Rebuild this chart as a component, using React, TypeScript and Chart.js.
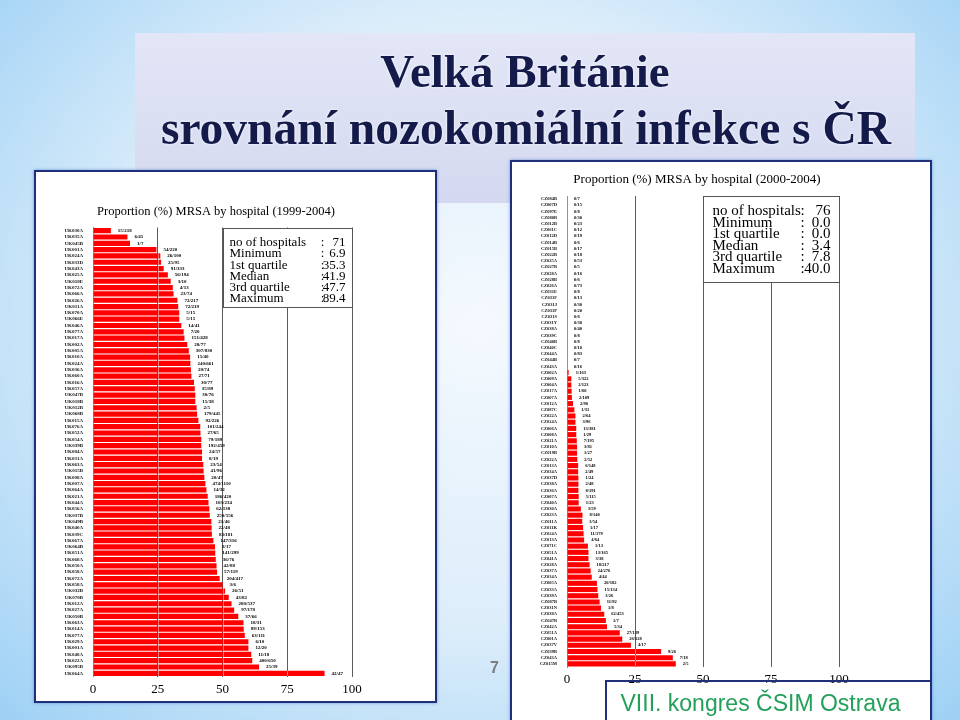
import React, { useEffect, useRef } from 'react';
import { Chart, registerables } from 'chart.js';

Chart.register(...registerables);

// ---------- data ----------
const xTickValues = [0, 25, 50, 75, 100];
const statLabels = ['no of hospitals', 'Minimum', '1st quartile', 'Median', '3rd quartile', 'Maximum'];

const ukHospitals = [
  'UK030A', 'UK035A', 'UK045B', 'UK001A', 'UK024A', 'UK033D', 'UK043A', 'UK025A', 'UK018E', 'UK072A',
  'UK066A', 'UK026A', 'UK011A', 'UK070A', 'UK066E', 'UK046A', 'UK077A', 'UK017A', 'UK002A', 'UK005A',
  'UK010A', 'UK024A', 'UK036A', 'UK060A', 'UK016A', 'UK057A', 'UK047B', 'UK018B', 'UK012B', 'UK068B',
  'UK015A', 'UK076A', 'UK052A', 'UK054A', 'UK039B', 'UK084A', 'UK031A', 'UK063A', 'UK015B', 'UK008A',
  'UK007A', 'UK064A', 'UK021A', 'UK044A', 'UK056A', 'UK037B', 'UK049B', 'UK040A', 'UK039C', 'UK067A',
  'UK064B', 'UK051A', 'UK068A', 'UK050A', 'UK058A', 'UK072A', 'UK058A', 'UK032B', 'UK070B', 'UK012A',
  'UK027A', 'UK050B', 'UK063A', 'UK014A', 'UK077A', 'UK029A', 'UK001A', 'UK048A', 'UK022A', 'UK095B',
  'UK064A',
];
const ukPercent = [
  6.9, 13.3, 14.3, 24.5, 26.0, 26.3, 27.3, 28.9, 30.0, 30.8,
  31.1, 32.6, 32.9, 33.3, 33.3, 34.1, 35.0, 35.3, 36.4, 37.0,
  37.5, 37.6, 37.8, 38.0, 39.0, 39.3, 39.5, 39.5, 40.0, 40.2,
  40.7, 41.4, 41.5, 41.8, 41.8, 42.1, 42.1, 42.6, 42.7, 43.0,
  43.4, 43.8, 44.3, 44.6, 44.9, 45.1, 45.7, 45.8, 45.9, 46.5,
  47.1, 47.2, 47.4, 47.7, 47.9, 48.9, 50.0, 51.0, 52.4, 53.5,
  54.5, 56.1, 58.1, 58.2, 58.6, 60.0, 60.0, 61.1, 61.5, 64.1,
  89.4,
];
const ukCounts = [
  '15/218', '6/45', '1/7', '54/220', '26/100', '25/95', '91/333', '56/194', '3/10', '4/13',
  '23/74', '72/217', '72/219', '5/15', '5/15', '14/41', '7/20', '151/428', '28/77', '307/830',
  '15/40', '240/661', '28/74', '27/71', '30/77', '35/89', '30/76', '15/38', '2/5', '179/445',
  '92/226', '101/244', '27/65', '79/189', '192/459', '24/57', '8/19', '23/54', '41/96', '20/47',
  '474/1110', '14/32', '186/420', '103/234', '62/138', '250/556', '21/46', '22/48', '83/181', '147/316',
  '8/17', '141/299', '36/76', '42/88', '57/119', '204/417', '3/6', '26/51', '43/82', '280/537',
  '97/178', '37/66', '18/31', '89/153', '63/111', '6/10', '12/20', '11/18', '400/650', '25/39',
  '42/47',
];
const ukStatValues = ['71', '6.9', '35.3', '41.9', '47.7', '89.4'];

const czHospitals = [
  'CZ084B', 'CZ007D', 'CZ097E', 'CZ080B', 'CZ012B', 'CZ061C', 'CZ012D', 'CZ014B', 'CZ015B', 'CZ022B',
  'CZ025A', 'CZ027B', 'CZ028A', 'CZ028B', 'CZ026A', 'CZ031E', 'CZ031F', 'CZ031J', 'CZ031P', 'CZ031S',
  'CZ031Y', 'CZ038A', 'CZ039C', 'CZ040B', 'CZ040C', 'CZ044A', 'CZ044B', 'CZ043A', 'CZ002A', 'CZ009A',
  'CZ004A', 'CZ017A', 'CZ007A', 'CZ012A', 'CZ087C', 'CZ022A', 'CZ024A', 'CZ006A', 'CZ008A', 'CZ021A',
  'CZ010A', 'CZ019B', 'CZ022A', 'CZ013A', 'CZ034A', 'CZ037D', 'CZ038A', 'CZ036A', 'CZ007A', 'CZ040A',
  'CZ030A', 'CZ023A', 'CZ011A', 'CZ011K', 'CZ024A', 'CZ013A', 'CZ071C', 'CZ051A', 'CZ041A', 'CZ028A',
  'CZ037A', 'CZ034A', 'CZ005A', 'CZ033A', 'CZ039A', 'CZ087B', 'CZ031N', 'CZ038A', 'CZ047B', 'CZ042A',
  'CZ051A', 'CZ001A', 'CZ037V', 'CZ039B', 'CZ043A', 'CZ015M',
];
const czPercent = [
  0, 0, 0, 0, 0, 0, 0, 0, 0, 0,
  0, 0, 0, 0, 0, 0, 0, 0, 0, 0,
  0, 0, 0, 0, 0, 0, 0, 0, 0.6, 1.6,
  1.6, 1.7, 1.8, 2.2, 2.7, 3.1, 3.1, 3.4, 3.4, 3.6,
  3.7, 3.7, 3.8, 4.1, 4.1, 4.2, 4.2, 4.2, 4.3, 4.3,
  5.1, 5.7, 5.6, 5.9, 6.1, 6.3, 7.7, 7.9, 7.9, 8.3,
  8.7, 9.1, 11.0, 11.2, 11.5, 12.0, 12.5, 13.7, 14.3, 14.7,
  19.4, 20.3, 23.5, 34.6, 38.9, 40.0,
];
const czCounts = [
  '0/7', '0/15', '0/8', '0/30', '0/23', '0/12', '0/19', '0/6', '0/17', '0/18',
  '0/53', '0/5', '0/16', '0/6', '0/73', '0/8', '0/13', '0/30', '0/20', '0/6',
  '0/30', '0/40', '0/8', '0/8', '0/10', '0/83', '0/7', '0/16', '1/163', '5/322',
  '2/123', '1/60', '2/109', '2/90', '1/31', '2/64', '3/96', '13/381', '1/29', '7/195',
  '3/81', '1/27', '2/52', '6/148', '2/49', '1/24', '2/48', '8/191', '5/115', '1/23',
  '3/59', '8/140', '3/54', '1/17', '11/179', '4/64', '1/13', '13/165', '3/38', '18/217',
  '24/276', '4/44', '20/182', '15/134', '3/26', '11/92', '1/8', '62/453', '1/7', '5/34',
  '27/139', '26/128', '4/17', '9/26', '7/18', '2/5',
];
const czStatValues = ['76', '0.0', '0.0', '3.4', '7.8', '40.0'];

// ---------- chart component ----------
type Cfg = {
  left: number; top: number; width: number; height: number;
  labels: string[]; values: number[]; counts: string[]; stats: string[];
  title: string; titleX: number; titleY: number; titleSize: number;
  yAxisW: number; xAxisH: number; padRight: number; padTop: number; padBottom: number;
  catSize: number; countSize: number;
  boxH: number; boxFont: number; boxTextX: number; boxColonX: number; boxValueX: number;
  boxLine0: number; boxStep: number;
};

const SERIF = '"Liberation Serif", "Times New Roman", serif';

function MrsaChart({ cfg }: { cfg: Cfg }) {
  const ref = useRef<HTMLCanvasElement>(null);
  useEffect(() => {
    const decor = {
      id: 'mrsaDecor',
      afterDatasetsDraw(chart: any) {
        const ctx = chart.ctx;
        const xs = chart.scales.x;
        const meta = chart.getDatasetMeta(0);
        ctx.save();
        // light grid traces through bars
        ctx.strokeStyle = 'rgba(255,255,255,0.45)';
        ctx.lineWidth = 1;
        meta.data.forEach((bar: any) => {
          const p = bar.getProps(['x', 'y', 'height'], true);
          [25, 50, 75].forEach((v) => {
            const px = Math.round(xs.getPixelForValue(v)) + 0.5;
            if (px < p.x) {
              ctx.beginPath();
              ctx.moveTo(px, p.y - p.height / 2);
              ctx.lineTo(px, p.y + p.height / 2);
              ctx.stroke();
            }
          });
        });
        // count labels
        ctx.fillStyle = '#000';
        ctx.font = `bold ${cfg.countSize}px ${SERIF}`;
        ctx.textAlign = 'left';
        ctx.textBaseline = 'middle';
        meta.data.forEach((bar: any, i: number) => {
          const p = bar.getProps(['x', 'y'], true);
          ctx.fillText(cfg.counts[i], p.x + 7, p.y);
        });
        ctx.restore();
      },
      afterDraw(chart: any) {
        const ctx = chart.ctx;
        const xs = chart.scales.x;
        const area = chart.chartArea;
        ctx.save();
        // title
        ctx.fillStyle = '#000';
        ctx.font = `${cfg.titleSize}px ${SERIF}`;
        ctx.textAlign = 'center';
        ctx.textBaseline = 'middle';
        ctx.fillText(cfg.title, cfg.titleX, cfg.titleY);
        // stats box
        const bl = Math.round(xs.getPixelForValue(50)) + 0.5;
        const br = Math.round(xs.getPixelForValue(100)) + 0.5;
        const bt = Math.round(area.top) + 0.5;
        ctx.fillStyle = '#fff';
        ctx.fillRect(bl, bt, br - bl, cfg.boxH);
        ctx.strokeStyle = '#555';
        ctx.lineWidth = 1;
        ctx.strokeRect(bl, bt, br - bl, cfg.boxH);
        ctx.fillStyle = '#000';
        ctx.font = `${cfg.boxFont}px ${SERIF}`;
        statLabels.forEach((lab, i) => {
          const y = bt + cfg.boxLine0 + i * cfg.boxStep;
          ctx.textAlign = 'left';
          ctx.fillText(lab, bl + cfg.boxTextX, y);
          ctx.textAlign = 'center';
          ctx.fillText(':', bl + cfg.boxColonX, y);
          ctx.textAlign = 'right';
          ctx.fillText(cfg.stats[i], bl + cfg.boxValueX, y);
        });
        ctx.restore();
      },
    };

    const chart = new Chart(ref.current!, {
      type: 'bar',
      data: {
        labels: cfg.labels,
        datasets: [{
          data: cfg.values,
          backgroundColor: '#ff0000',
          borderWidth: 0,
          barPercentage: 0.82,
          categoryPercentage: 1,
        }],
      },
      options: {
        indexAxis: 'y',
        responsive: false,
        animation: false,
        events: [],
        layout: { padding: { left: 0, right: cfg.padRight, top: cfg.padTop, bottom: cfg.padBottom } },
        plugins: { legend: { display: false }, tooltip: { enabled: false }, title: { display: false } },
        scales: {
          x: {
            type: 'linear',
            min: 0,
            max: 100,
            afterBuildTicks: (s: any) => { s.ticks = xTickValues.map((v) => ({ value: v })); },
            ticks: { font: { family: SERIF, size: 13 }, color: '#000', padding: 5 },
            grid: {
              color: (c: any) => (c.tick && c.tick.value === 0 ? 'rgba(0,0,0,0)' : '#5c5c5c'),
              drawTicks: false,
              lineWidth: 1,
            },
            border: { display: false },
            afterFit: (s: any) => { s.height = cfg.xAxisH; },
          },
          y: {
            ticks: { autoSkip: false, font: { family: SERIF, size: cfg.catSize, weight: 'bold' }, color: '#111', padding: 10 },
            grid: { display: false, drawTicks: false },
            border: { display: true, color: 'rgb(196,128,128)', width: 1 },
            afterFit: (s: any) => { s.width = cfg.yAxisW; },
          },
        },
      },
      plugins: [decor],
    } as any);
    return () => chart.destroy();
  }, []);
  return (
    <canvas
      ref={ref}
      width={cfg.width}
      height={cfg.height}
      style={{ position: 'absolute', left: cfg.left, top: cfg.top, width: cfg.width, height: cfg.height }}
    />
  );
}

const ukCfg: Cfg = {
  left: 36, top: 172, width: 399, height: 529,
  labels: ukHospitals, values: ukPercent, counts: ukCounts, stats: ukStatValues,
  title: 'Proportion (%) MRSA by hospital (1999-2004)', titleX: 180, titleY: 40, titleSize: 12.5,
  yAxisW: 57, xAxisH: 24.5, padRight: 83, padTop: 55.5, padBottom: 0,
  catSize: 5, countSize: 5,
  boxH: 79, boxFont: 13, boxTextX: 6, boxColonX: 99, boxValueX: 122, boxLine0: 14, boxStep: 11.3,
};

const czCfg: Cfg = {
  left: 512, top: 162, width: 418, height: 558,
  labels: czHospitals, values: czPercent, counts: czCounts, stats: czStatValues,
  title: 'Proportion (%) MRSA by hospital (2000-2004)', titleX: 185, titleY: 18, titleSize: 13,
  yAxisW: 55, xAxisH: 24, padRight: 91, padTop: 34, padBottom: 29,
  catSize: 4.5, countSize: 4.5,
  boxH: 86, boxFont: 15, boxTextX: 9, boxColonX: 99, boxValueX: 127, boxLine0: 14.5, boxStep: 11.6,
};

export default function App() {
  const panelBorder = '2px solid #1f2f7a';
  return (
    <div
      style={{
        position: 'fixed', left: 0, top: 0, width: 960, height: 720, overflow: 'hidden',
        background: 'radial-gradient(ellipse 75% 85% at 50% 45%, #f4f9fe 0%, #dcedfa 50%, #a9d6f6 85%, #92cbf3 100%)',
        fontFamily: SERIF,
      }}
    >
      <div
        style={{
          position: 'absolute', left: 135, top: 33, width: 780, height: 170,
          background: 'linear-gradient(#e3e6f6, #d4d9f0)',
        }}
      />
      <div
        style={{
          position: 'absolute', left: 125, top: 48, width: 800, textAlign: 'center',
          fontSize: 47, lineHeight: '47px', fontWeight: 'bold', color: '#141b4a',
          textShadow: '0 0 3px #fff',
        }}
      >
        Velká Británie
      </div>
      <div
        style={{
          position: 'absolute', left: 126, top: 104, width: 800, textAlign: 'center',
          fontSize: 47.5, lineHeight: '48px', fontWeight: 'bold', color: '#141b4a',
          textShadow: '0 0 3px #fff', whiteSpace: 'nowrap',
        }}
      >
        srovnání nozokomiální infekce s ČR
      </div>

      <div
        style={{
          position: 'absolute', left: 34, top: 170, width: 403, height: 533, boxSizing: 'border-box',
          background: '#fff', border: panelBorder, boxShadow: '0 0 3px rgba(70,120,210,0.7)',
        }}
      />
      <MrsaChart cfg={ukCfg} />

      <div
        style={{
          position: 'absolute', left: 510, top: 160, width: 422, height: 580, boxSizing: 'border-box',
          background: '#fff', border: panelBorder, boxShadow: '0 0 3px rgba(70,120,210,0.7)',
        }}
      />
      <MrsaChart cfg={czCfg} />

      <div
        style={{
          position: 'absolute', left: 490, top: 658, fontSize: 16, lineHeight: '20px',
          fontFamily: '"Liberation Sans", Arial, sans-serif', fontWeight: 'bold', color: '#7d7d7d',
        }}
      >
        7
      </div>

      <div
        style={{
          position: 'absolute', left: 605, top: 680, width: 327, height: 60, boxSizing: 'border-box',
          border: '2px solid #1f2f7a',
        }}
      />
      <div
        style={{
          position: 'absolute', left: 597, top: 689, width: 327, textAlign: 'center',
          fontFamily: '"Liberation Sans", Arial, sans-serif', fontSize: 23, lineHeight: '28px',
          color: '#23a05a', whiteSpace: 'nowrap',
        }}
      >
        VIII. kongres ČSIM Ostrava
      </div>
    </div>
  );
}
